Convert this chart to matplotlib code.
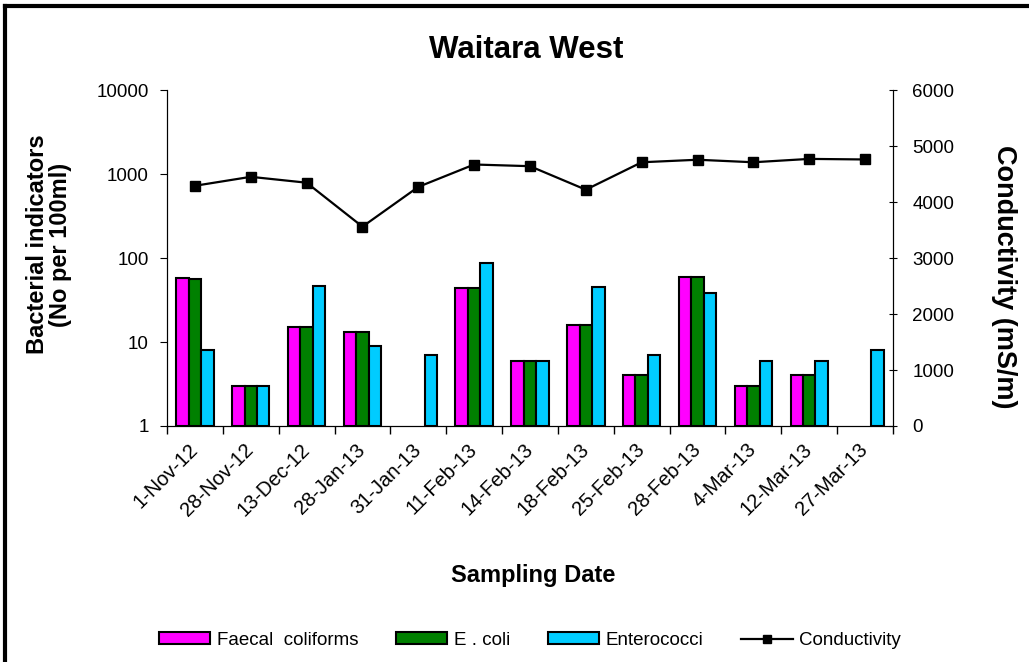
import matplotlib
matplotlib.use("Agg")
import matplotlib.pyplot as plt
from matplotlib.lines import Line2D
from matplotlib.transforms import ScaledTranslation
import numpy as np

plt.rcParams['font.family'] = ['Liberation Sans', 'DejaVu Sans']

dates = ['1-Nov-12', '28-Nov-12', '13-Dec-12', '28-Jan-13', '31-Jan-13', '11-Feb-13',
         '14-Feb-13', '18-Feb-13', '25-Feb-13', '28-Feb-13', '4-Mar-13', '12-Mar-13', '27-Mar-13']
faecal = [58, 3, 15, 13, np.nan, 44, 6, 16, 4, 60, 3, 4, np.nan]
ecoli = [56, 3, 15, 13, np.nan, 44, 6, 16, 4, 60, 3, 4, np.nan]
entero = [8, 3, 46, 9, 7, 87, 6, 45, 7, 38, 6, 6, 8]
conductivity = [4290, 4450, 4345, 3560, 4270, 4670, 4640, 4220, 4710, 4755, 4710, 4770, 4760]

fig = plt.figure(figsize=(10.29, 6.62), dpi=100)
ax = fig.add_axes([0.1623, 0.3565, 0.7055, 0.5075])
ax2 = ax.twinx()

x = np.arange(len(dates))
w = 0.223
kw = dict(width=w, edgecolor='black', linewidth=1.5, bottom=1)
ax.bar(x - w, np.array(faecal) - 1, color='#ff00ff', label='Faecal  coliforms', **kw)
ax.bar(x, np.array(ecoli) - 1, color='#008000', label='E . coli', **kw)
ax.bar(x + w, np.array(entero) - 1, color='#00ccff', label='Enterococci', **kw)

ax.set_yscale('log')
ax.set_ylim(1, 10000)
ax.set_xlim(-0.5, len(dates) - 0.5)
ax.set_yticks([1, 10, 100, 1000, 10000])
ax.set_yticklabels(['1', '10', '100', '1000', '10000'])
ax.yaxis.set_minor_locator(matplotlib.ticker.NullLocator())

ax2.plot(x, conductivity, color='black', marker='s', markersize=7, linewidth=1.6)
ax2.set_ylim(0, 6000)
ax2.set_yticks(range(0, 6001, 1000))

# x ticks between categories, labels at category centres
ax.set_xticks(np.arange(-0.5, len(dates)), minor=False)
ax.set_xticklabels([])
ax.set_xticks(x, minor=True)
ax.set_xticklabels(dates, minor=True, rotation=45, ha='right', va='center',
                   rotation_mode='anchor', fontsize=14.5)
shift = ScaledTranslation(4 / 72, 0, fig.dpi_scale_trans)
for lab in ax.get_xticklabels(minor=True):
    lab.set_transform(lab.get_transform() + shift)
ax.tick_params(axis='x', which='minor', length=0, pad=15)
ax.tick_params(axis='x', which='major', length=6, direction='out', width=1)
ax.tick_params(axis='y', length=5, direction='out', labelsize=13.5, pad=8)
ax2.tick_params(axis='y', length=6, direction='inout', labelsize=13.5, pad=11)

for a in (ax, ax2):
    a.spines['top'].set_visible(False)

fig.text(0.511, 0.924, 'Waitara West', ha='center', va='center', fontsize=22.5, fontweight='bold')
ax.set_ylabel('Bacterial indicators\n(No per 100ml)', fontsize=17, fontweight='bold', linespacing=1.0)
ax.yaxis.label.set_va('center')
ax.yaxis.set_label_coords(-0.163, 0.54)
ax2.set_ylabel('Conductivity (mS/m)', fontsize=19.5, fontweight='bold', rotation=270)
ax2.yaxis.label.set_va('center')
ax2.yaxis.set_label_coords(1.153, 0.445)
fig.text(0.518, 0.131, 'Sampling Date', ha='center', va='center', fontsize=17, fontweight='bold')

handles, labels = ax.get_legend_handles_labels()
handles.append(Line2D([], [], color='black', marker='s', markersize=6, linewidth=1.6))
labels.append('Conductivity')
fig.legend(handles, labels, loc='center', bbox_to_anchor=(0.515, 0.033), ncol=4, frameon=False,
           fontsize=13.5, handlelength=2.75, handleheight=0.55, columnspacing=2.0, handletextpad=0.35)

# partial frame around the picture
fig.add_artist(Line2D([0.005, 0.005], [0, 0.991], transform=fig.transFigure, color='black', linewidth=3))
fig.add_artist(Line2D([0.005, 1], [0.991, 0.991], transform=fig.transFigure, color='black', linewidth=3))

fig.savefig('out.png', dpi=100)
